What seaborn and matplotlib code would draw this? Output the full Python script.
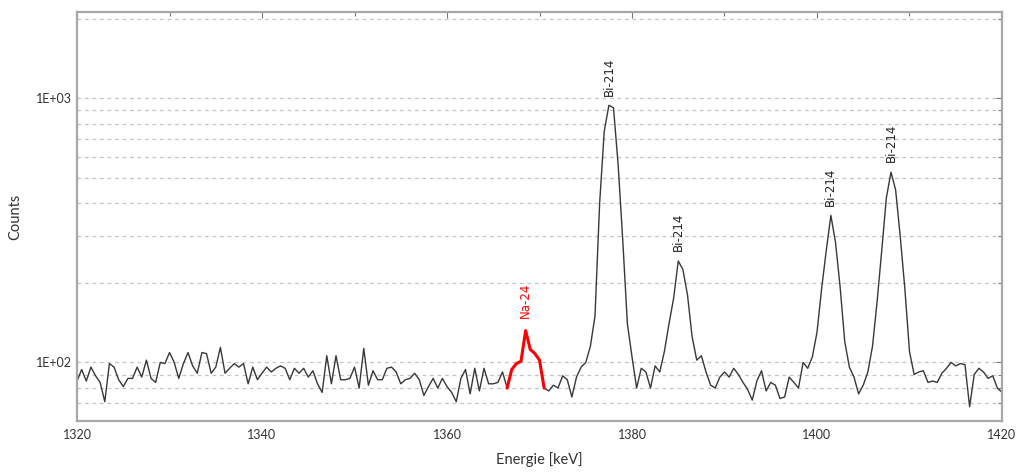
"""
Gamma spectrum around 1320-1420 keV (log counts), with Na-24 line in red
and Bi-214 peaks labelled.
"""

import numpy as np
import pandas as pd
import matplotlib.pyplot as plt
import matplotlib.ticker as mticker
import seaborn as sns

# data - channel every 0.5 keV, counts
E_START = 1320.0
E_STEP = 0.5
COUNTS = [
    85, 94, 85, 96, 89, 84, 71, 99, 96, 86,
    81, 87, 87, 96, 88, 102, 87, 84, 100, 99,
    109, 100, 87, 99, 109, 97, 91, 109, 108, 91,
    96, 114, 91, 95, 99, 96, 99, 83, 96, 86,
    91, 96, 92, 95, 97, 95, 86, 95, 91, 95,
    88, 93, 83, 77, 106, 83, 106, 86, 86, 87,
    96, 80, 113, 82, 93, 86, 86, 95, 96, 92,
    83, 86, 87, 91, 86, 75, 81, 87, 80, 87,
    81, 77, 71, 87, 94, 76, 95, 78, 95, 83,
    83, 84, 92, 80, 94, 99, 101, 132, 112, 108,
    102, 80, 78, 82, 80, 89, 86, 74, 88, 96,
    100, 115, 150, 400, 750, 940, 920, 560, 290, 140,
    105, 80, 95, 92, 80, 97, 92, 110, 140, 175,
    242, 225, 180, 125, 102, 106, 92, 82, 80, 88,
    92, 88, 95, 90, 84, 79, 72, 85, 93, 78,
    84, 82, 73, 74, 88, 84, 80, 100, 95, 105,
    130, 190, 265, 360, 285, 193, 120, 96, 88, 76,
    82, 92, 115, 170, 265, 420, 525, 450, 300, 190,
    110, 90, 92, 93, 84, 85, 84, 91, 95, 100,
    97, 99, 98, 68, 90, 95, 92, 87, 89, 80,
    77,
]
NA_RANGE = [1366.5, 1370.5]          # red Na-24 segment
NA_PEAK = 1368.5
BI_PEAKS = [1377.5, 1385.0, 1401.5, 1408.0]
X_TICKS = [1320, 1340, 1360, 1380, 1400, 1420]


def main():
    energy = E_START + E_STEP * np.arange(len(COUNTS))
    df = pd.DataFrame({'energy': energy, 'counts': COUNTS})
    na = df.loc[(df['energy'] >= NA_RANGE[0]) & (df['energy'] <= NA_RANGE[1])]

    sns.set_style('white')
    plt.rcParams['font.family'] = ['Lato', 'DejaVu Sans']

    fig = plt.figure(figsize=(10.19, 4.72), dpi=100)
    ax = fig.add_axes([0.0756, 0.108, 0.9077, 0.8666])

    sns.lineplot(data=df, x='energy', y='counts', ax=ax, color='#383838',
                 lw=1.0, estimator=None, sort=True)
    sns.lineplot(data=na, x='energy', y='counts', ax=ax, color='#ff0000',
                 lw=2.2, estimator=None, sort=True)

    ax.set_yscale('log')
    ax.set_ylim(60, 2120)
    ax.set_xlim(1320, 1420)

    # ticks
    ax.set_xticks(X_TICKS)
    ax.xaxis.set_minor_locator(mticker.MultipleLocator(10))
    ax.yaxis.set_major_locator(mticker.FixedLocator([100, 1000]))
    ax.yaxis.set_major_formatter(
        mticker.FuncFormatter(lambda v, pos: f"{v:.0E}"))
    ax.yaxis.set_minor_locator(
        mticker.LogLocator(base=10, subs=np.arange(2, 10), numticks=20))
    ax.yaxis.set_minor_formatter(mticker.NullFormatter())
    ax.tick_params(which='both', direction='in', top=True, right=True,
                   color='#777777', labelsize=9, labelcolor='#333333')
    ax.tick_params(which='major', length=4, width=0.8)
    ax.tick_params(which='minor', length=3, width=0.8)
    ax.tick_params(axis='x', pad=6)

    # grid
    ax.yaxis.grid(True, which='both', linestyle=(0, (3, 3)),
                  color='#c4c4c4', lw=0.9)
    ax.xaxis.grid(False)
    for sp in ax.spines.values():
        sp.set_color('#a8a8a8')
        sp.set_linewidth(1.6)

    ax.set_xlabel('Energie [keV]', fontsize=10.5, color='#333333', labelpad=8)
    ax.set_ylabel('Counts', fontsize=10.5, color='#333333', labelpad=10)

    # peak labels
    for e in BI_PEAKS:
        c = df.loc[np.isclose(df['energy'], e), 'counts'].values[0]
        ax.annotate('Bi-214', xy=(e, c), xytext=(0, 7),
                    textcoords='offset points', rotation=90, ha='center',
                    va='bottom', fontsize=8.5, color='#222222',
                    family='DejaVu Sans')
    c = df.loc[np.isclose(df['energy'], NA_PEAK), 'counts'].values[0]
    ax.annotate('Na-24', xy=(NA_PEAK, c), xytext=(0, 9),
                textcoords='offset points', rotation=90, ha='center',
                va='bottom', fontsize=8.5, color='#ff0000',
                family='DejaVu Sans')

    fig.savefig('out.png', dpi=100)


if __name__ == "__main__":
    main()
